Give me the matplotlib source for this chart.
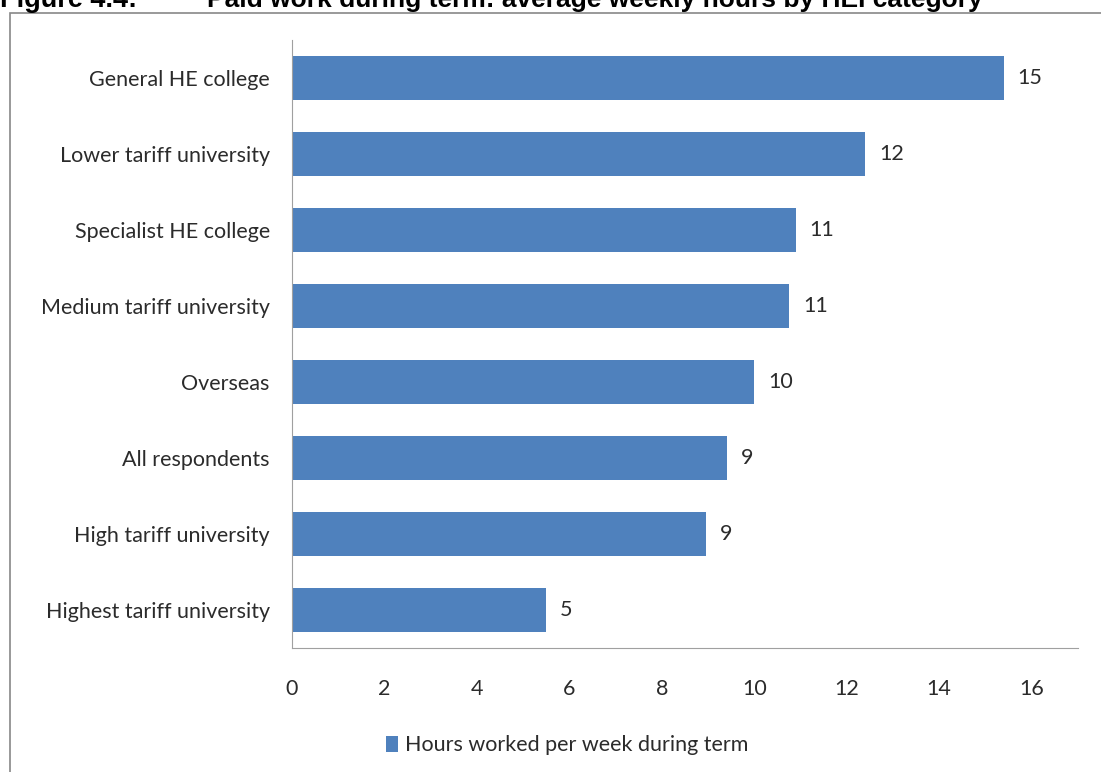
import matplotlib.pyplot as plt
from matplotlib.patches import Rectangle

# Categories (top to bottom) and values
categories = ["General HE college", "Lower tariff university", "Specialist HE college",
              "Medium tariff university", "Overseas", "All respondents",
              "High tariff university", "Highest tariff university"]
hours = [15.4, 12.4, 10.9, 10.75, 10.0, 9.4, 8.95, 5.5]
value_labels = ["15", "12", "11", "11", "10", "9", "9", "5"]
xticks = [0, 2, 4, 6, 8, 10, 12, 14, 16]

plt.rcParams['font.family'] = ['Lato', 'DejaVu Sans']
txt_color = "#2b2b2b"
fs = 15.5

fig = plt.figure(figsize=(11.01, 7.72), dpi=100)
ax = fig.add_axes([0.2652, 0.1606, 0.7138, 0.7876])

ypos = list(range(len(categories)))[::-1]
ax.barh(ypos, hours, height=0.58, color="#4F81BD", label="Hours worked per week during term")

for y, v, lab in zip(ypos, hours, value_labels):
    ax.text(v + 0.3, y, lab, va="center", ha="left", fontsize=fs, color=txt_color)

ax.set_xlim(0, 17)
ax.set_ylim(-0.5, len(categories) - 0.5)
ax.set_yticks(ypos)
ax.set_yticklabels(categories, fontsize=fs, color=txt_color)
ax.set_xticks(xticks)
ax.tick_params(axis="x", length=0, pad=22, labelsize=fs, labelcolor=txt_color)
ax.tick_params(axis="y", length=0, pad=16)

for s in ["top", "right"]:
    ax.spines[s].set_visible(False)
ax.spines["left"].set_color("#a0a0a0")
ax.spines["bottom"].set_color("#a0a0a0")

ax.legend(loc="upper center", bbox_to_anchor=(0.35, -0.112), frameon=False,
          fontsize=fs, handlelength=0.55, handleheight=0.75, handletextpad=0.3,
          labelcolor=txt_color)

# outer chart frame
fig.patches.append(Rectangle((10 / 1101, -0.01), 1.02, 1 - 13 / 772 + 0.01,
                             transform=fig.transFigure, fill=False,
                             edgecolor="#888888", lw=1.2))

# figure caption at the top (clipped by the screenshot edge in the original)
fig.text(0.0, 1 - 7 / 772, "Figure 4.4:", fontsize=19.5, fontweight="bold",
         family="Liberation Sans", va="baseline")
fig.text(207 / 1101, 1 - 7 / 772, "Paid work during term: average weekly hours by HEI category",
         fontsize=19, fontweight="bold", family="Liberation Sans", va="baseline")

fig.savefig("out.png", dpi=100)
